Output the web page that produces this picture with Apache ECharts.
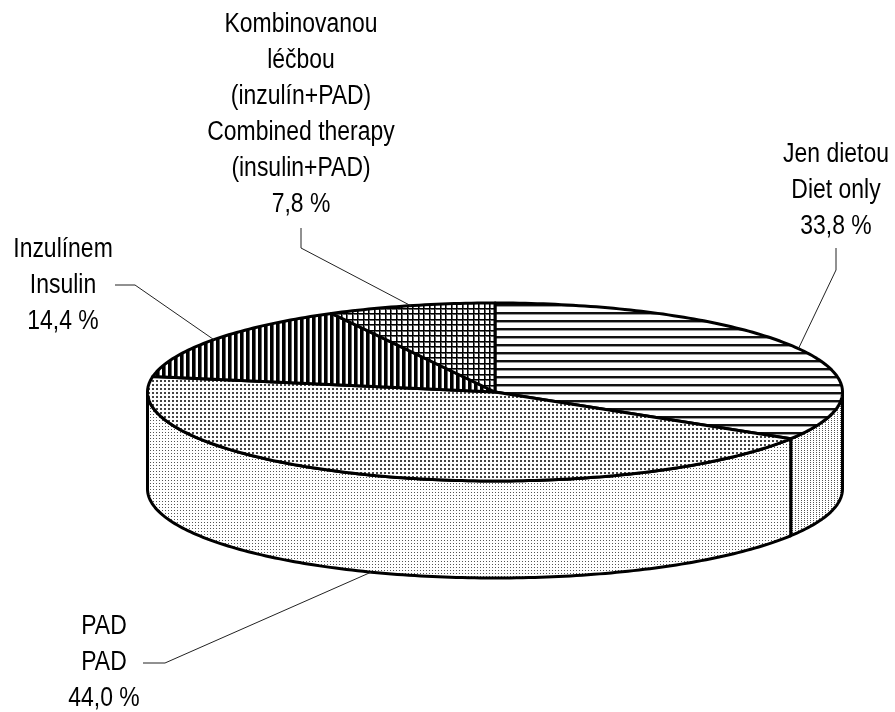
<!DOCTYPE html>
<html lang="cs">
<head>
<meta charset="UTF-8">
<title>Léčba diabetu</title>
<style>
  html, body { margin: 0; padding: 0; background: #fff; }
  #chart-box { width: 895px; height: 712px; }
</style>
</head>
<body>
<div id="chart-box"></div>
<script src="https://cdn.jsdelivr.net/npm/echarts@6/dist/echarts.min.js"></script>
<script>
// data
var namesCz = ['Jen dietou', 'PAD', 'Inzulínem', 'Kombinovanou\nléčbou\n(inzulín+PAD)'];
var namesEn = ['Diet only', 'PAD', 'Insulin', 'Combined therapy\n(insulin+PAD)'];
var shares = [33.8, 44.0, 14.4, 7.8];

// pie geometry (px) - elliptic "3D" pie
var cx = 495, cy = 392, rx = 347.5, ry = 89, depth = 97;

// label centres and leader elbows, same order as the data
var labelPos = [[836, 191], [104, 663], [63, 286], [301, 115]];
var leaderElbow = [
    [[836, 248], [836, 270]],
    [[143, 663], [165, 663]],
    [[115, 285], [135, 285]],
    [[301, 228], [301, 248]]
];

var total = shares.reduce(function (a, b) { return a + b; }, 0);
var starts = [];
var acc = 0;
shares.forEach(function (v) { starts.push(acc); acc += v; });
var seriesData = shares.map(function (v, i) { return [v, starts[i]]; });

function makePattern(w, h, draw) {
    var c = document.createElement('canvas');
    c.width = w; c.height = h;
    var ctx = c.getContext('2d');
    ctx.fillStyle = '#fff';
    ctx.fillRect(0, 0, w, h);
    draw(ctx);
    return { image: c, repeat: 'repeat' };
}

var topFill = [
    // horizontal lines
    makePattern(8, 8, function (ctx) {
        ctx.fillStyle = '#111'; ctx.fillRect(0, 0, 8, 2);
        ctx.fillStyle = '#999'; ctx.fillRect(0, 2, 8, 1);
    }),
    // dots
    makePattern(4, 4, function (ctx) {
        ctx.fillStyle = '#444'; ctx.fillRect(0, 0, 2, 2);
    }),
    // vertical stripes
    makePattern(6, 6, function (ctx) {
        ctx.fillStyle = '#000'; ctx.fillRect(0, 0, 3, 6);
        ctx.fillStyle = '#666'; ctx.fillRect(3, 0, 1, 6);
    }),
    // grid
    makePattern(11, 11, function (ctx) {
        ctx.fillStyle = '#666';
        ctx.fillRect(0, 1, 11, 1); ctx.fillRect(0, 6, 11, 1);
        ctx.fillRect(1, 0, 1, 11); ctx.fillRect(6, 0, 1, 11);
        ctx.fillStyle = '#000';
        ctx.fillRect(0, 0, 11, 1); ctx.fillRect(0, 5, 11, 1);
        ctx.fillRect(0, 0, 1, 11); ctx.fillRect(5, 0, 1, 11);
    })
];
var sideFill = [
    makePattern(3, 2, function (ctx) {
        ctx.fillStyle = '#555'; ctx.fillRect(0, 0, 1, 1);
    }),
    makePattern(3, 3, function (ctx) {
        ctx.fillStyle = '#555'; ctx.fillRect(0, 0, 1, 1);
    }),
    makePattern(3, 3, function (ctx) {
        ctx.fillStyle = '#555'; ctx.fillRect(0, 0, 1, 1);
    }),
    makePattern(3, 3, function (ctx) {
        ctx.fillStyle = '#555'; ctx.fillRect(0, 0, 1, 1);
    })
];

// angle in degrees, clockwise from 12 o'clock
function pointAt(deg, dy) {
    var r = deg * Math.PI / 180;
    return [cx + rx * Math.sin(r), cy - ry * Math.cos(r) + dy];
}
function arc(a0, a1, dy) {
    var n = Math.max(2, Math.ceil(a1 - a0));
    var pts = [];
    for (var i = 0; i <= n; i++) {
        pts.push(pointAt(a0 + (a1 - a0) * i / n, dy));
    }
    return pts;
}
function angles(api) {
    var v = api.value(0), s = api.value(1);
    return [s / total * 360, (s + v) / total * 360];
}
function fmt(v) {
    return v.toFixed(1).replace('.', ',') + ' %';
}

function renderSide(params, api) {
    var a = angles(api);
    var s = Math.max(a[0], 90), e = Math.min(a[1], 270);
    if (e <= s) return null;
    var pts = arc(s, e, 0).concat(arc(s, e, depth).reverse());
    return {
        type: 'polygon',
        shape: { points: pts },
        style: { fill: sideFill[params.dataIndex], stroke: '#000', lineWidth: 3, lineJoin: 'round' }
    };
}

function renderTop(params, api) {
    var a = angles(api);
    var pts = [[cx, cy]].concat(arc(a[0], a[1], 0));
    return {
        type: 'polygon',
        shape: { points: pts },
        style: { fill: topFill[params.dataIndex], stroke: '#000', lineWidth: 3, lineJoin: 'round' }
    };
}

function renderLabel(params, api) {
    var i = params.dataIndex;
    var a = angles(api);
    var mid = (a[0] + a[1]) / 2;
    var front = mid > 90 && mid < 270;
    var anchor = pointAt(mid, front ? depth : 0);
    var pos = labelPos[i];
    return {
        type: 'group',
        children: [
            {
                type: 'polyline',
                shape: { points: leaderElbow[i].concat([anchor]) },
                style: { stroke: '#222', lineWidth: 1, fill: null }
            },
            {
                type: 'text',
                x: pos[0], y: pos[1],
                scaleX: 0.85,
                style: {
                    text: namesCz[i] + '\n' + namesEn[i] + '\n' + fmt(api.value(0)),
                    fill: '#000',
                    fontSize: 27,
                    fontFamily: '"Liberation Sans", Arial, sans-serif',
                    lineHeight: 36,
                    align: 'center',
                    verticalAlign: 'middle'
                }
            }
        ]
    };
}

var option = {
    animation: false,
    backgroundColor: '#fff',
    series: [
        { type: 'custom', name: 'side', coordinateSystem: 'none', z: 1, silent: true, renderItem: renderSide, data: seriesData },
        { type: 'custom', name: 'top', coordinateSystem: 'none', z: 2, silent: true, renderItem: renderTop, data: seriesData },
        { type: 'custom', name: 'labels', coordinateSystem: 'none', z: 3, silent: true, renderItem: renderLabel, data: seriesData }
    ]
};

var pieChart = echarts.init(document.getElementById('chart-box'));
pieChart.setOption(option);
</script>
</body>
</html>
